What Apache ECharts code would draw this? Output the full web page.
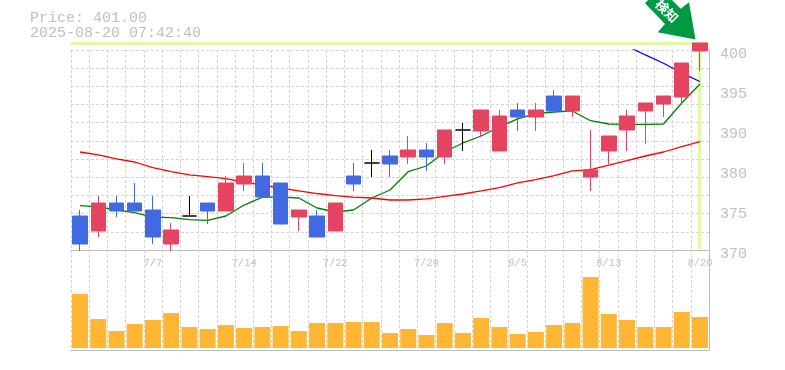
<!DOCTYPE html>
<html>
<head>
<meta charset="utf-8">
<title>Price chart</title>
<script src="https://cdn.jsdelivr.net/npm/echarts@6/dist/echarts.min.js"></script>
<style>
  html, body { margin: 0; background: #fff; }
  #chart { width: 785px; height: 370px; }
</style>
</head>
<body>
<div id="chart"></div>
<script>
const priceText = 'Price: 401.00'
const timeText = '2025-08-20 07:42:40'
const arrowText = '検知'
const lastPrice = 400.81

const dates = [
  '7/1', '7/2', '7/3', '7/4', '7/7', '7/8', '7/9', '7/10', '7/11', '7/14',
  '7/15', '7/16', '7/17', '7/18', '7/22', '7/23', '7/24', '7/25', '7/28', '7/29',
  '7/30', '7/31', '8/1', '8/4', '8/5', '8/6', '8/7', '8/8', '8/12', '8/13',
  '8/14', '8/15', '8/18', '8/19', '8/20',
]

const opens = [
  379.25, 377.375, 380.875, 380.875, 380, 375.75, 379.25, 380.875, 379.875, 383.25,
  384.25, 383.375, 379.125, 379.25, 377.375, 384.25, 385.875, 386.75, 386.625, 387.5,
  386.625, 390, 389.875, 387.375, 392.5, 391.625, 394.25, 392.375, 384.125, 387.375,
  390, 392.375, 393.25, 394.125, 399.875,
]
const closes = [
  375.75, 380.875, 379.875, 379.875, 376.625, 377.5, 379.25, 379.875, 383.375, 384.25,
  381.625, 378.25, 380, 376.625, 380.875, 383.25, 385.875, 385.75, 387.5, 386.625,
  390, 390, 392.5, 391.75, 391.625, 392.5, 392.375, 394.25, 385, 389.25,
  391.75, 393.375, 394.25, 398.375, 400.875,
]
const lows = [
  374.875, 376.625, 379.125, 379.875, 375.75, 374.875, 379.25, 378.25, 379.875, 382.375,
  381.625, 378.25, 377.375, 376.625, 377.375, 382.375, 384.125, 384.125, 385.75, 384.875,
  385.75, 387.375, 389.125, 387.375, 389.875, 389.875, 392.375, 391.625, 382.375, 385.75,
  387.375, 388.25, 391.625, 393.25, 397.375,
]
const highs = [
  380, 381.75, 381.75, 383.375, 381.75, 378.375, 381.75, 380.875, 384.25, 385.875,
  385.875, 383.375, 380, 380, 380.875, 385.875, 387.5, 387.5, 389.25, 388.375,
  390, 390.875, 392.5, 392.5, 393.375, 393.375, 395, 394.25, 390, 389.25,
  392.5, 393.375, 394.25, 398.375, 400.875,
]

const maShort = [
  380.54, 380.38, 380, 379.66, 379.12, 379.04, 378.79, 378.71, 379.25, 380.62,
  381.62, 381.62, 381.5, 380.25, 379.75, 380, 381.5, 382.5, 384.79, 385.5,
  387.25, 388.38, 389.25, 390.38, 391.38, 392.04, 392.25, 392.38, 391.16, 390.75,
  390.71, 390.71, 390.75, 393.38, 395.75,
]
const maMiddle = [
  387.25, 386.88, 386.38, 386, 385.29, 384.79, 384.38, 384.16, 383.91, 383.5,
  383.12, 382.75, 382.38, 382.06, 381.79, 381.62, 381.5, 381.25, 381.25, 381.38,
  381.69, 382, 382.38, 382.81, 383.38, 383.81, 384.29, 384.88, 385.04, 385.62,
  386.16, 386.75, 387.25, 387.91, 388.54,
]
const maLong = [
  null, null, null, null, null, null, null, null, null, null,
  null, null, null, null, null, null, null, null, null, null,
  null, null, null, null, null, null, null, null, null, null,
  400.5, 399.38, 398.34, 397.12, 396.06,
]

const volumes = [
  54, 29, 17, 24, 28, 35, 21, 19, 23, 20,
  21, 22, 17, 25, 25, 26, 26, 15, 19, 13,
  25, 15, 30, 21, 14, 16, 23, 25, 71, 34,
  28, 21, 21, 36, 31,
]

// the printed scale skips 385, so these ticks carry the labels shown in the picture
const tickValues = [400, 395, 390, 385, 380, 375]
const tickLabels = ['400', '395', '390', '380', '375', '370']

const textGray = '#c0c0c0'
const axisGray = '#bdbdbd'
const gridGray = '#d4d4d4'
const upColor = '#e4445f'
const downColor = '#4169e1'
const priceLineColor = '#e3f7a8'
const monoFont = '"Liberation Mono", monospace'
const gridDash = { color: gridGray, type: [3, 2], width: 1 }

// crosshair on the latest price: across the top of the plot, down the last candle
function renderPriceLines(params, api) {
  const grid = params.coordSys
  const point = api.coord([api.value(0), api.value(1)])
  const top = Math.round(point[1] - 1.5)
  const style = { fill: priceLineColor }
  return {
    type: 'group',
    children: [
      { type: 'rect', shape: { x: grid.x, y: top, width: grid.width, height: 3 }, style },
      {
        type: 'rect',
        shape: {
          x: Math.round(point[0] - 1.5),
          y: top,
          width: 3,
          height: grid.y + grid.height - top - 1,
        },
        style,
      },
    ],
  }
}

const chart = echarts.init(document.getElementById('chart'))

chart.setOption({
  animation: false,
  backgroundColor: '#ffffff',
  title: {
    text: `${priceText}\n${timeText}`,
    left: 30,
    top: 11,
    padding: 0,
    textStyle: {
      color: textGray,
      fontFamily: monoFont,
      fontSize: 15,
      fontWeight: 'normal',
      lineHeight: 15,
    },
  },
  grid: [
    { left: 70.9, width: 638.2, top: 50, height: 200 },
    { left: 70.9, width: 638.2, top: 250, height: 100 },
  ],
  xAxis: [
    {
      type: 'category',
      gridIndex: 0,
      data: dates,
      axisTick: { show: false },
      axisLine: { lineStyle: { color: axisGray, width: 1 } },
      axisLabel: {
        interval: (index) => index % 5 === 4,
        color: textGray,
        fontFamily: monoFont,
        fontSize: 10.5,
        margin: 8,
        hideOverlap: false,
        showMaxLabel: true,
      },
      splitLine: { show: true, interval: 0, lineStyle: gridDash },
    },
    {
      type: 'category',
      gridIndex: 1,
      data: dates,
      axisTick: { show: false },
      axisLine: { onZero: false, lineStyle: { color: axisGray, width: 1 } },
      axisLabel: { show: false },
      splitLine: { show: true, interval: 0, lineStyle: gridDash },
    },
  ],
  yAxis: [
    {
      type: 'value',
      gridIndex: 0,
      position: 'right',
      min: 375,
      max: 400,
      interval: 5,
      axisTick: { show: false },
      axisLine: { show: true, lineStyle: { color: axisGray, width: 1 } },
      axisLabel: {
        color: textGray,
        fontFamily: monoFont,
        fontSize: 15,
        margin: 11,
        verticalAlign: 'top',
        lineHeight: 8,
        formatter: (value) => tickLabels[tickValues.indexOf(value)] || '',
      },
      splitLine: { show: false },
    },
    {
      // only draws the finer background grid
      type: 'value',
      gridIndex: 0,
      position: 'left',
      min: 0,
      max: 11,
      interval: 1,
      axisTick: { show: false },
      axisLine: { show: false },
      axisLabel: { show: false },
      splitLine: { show: true, lineStyle: gridDash },
    },
    {
      type: 'value',
      gridIndex: 1,
      position: 'right',
      min: -2,
      max: 98,
      axisTick: { show: false },
      axisLine: { show: true, lineStyle: { color: axisGray, width: 1 } },
      axisLabel: { show: false },
      splitLine: { show: false },
    },
  ],
  series: [
    {
      name: 'Latest price',
      type: 'custom',
      xAxisIndex: 0,
      yAxisIndex: 0,
      z: 1,
      silent: true,
      clip: false,
      renderItem: renderPriceLines,
      encode: { x: 0, y: 1 },
      data: [[dates.length - 1, lastPrice]],
    },
    {
      name: 'Price',
      type: 'candlestick',
      xAxisIndex: 0,
      yAxisIndex: 0,
      z: 3,
      clip: false,
      barWidth: 15,
      data: dates.map((_, index) => [opens[index], closes[index], lows[index], highs[index]]),
      itemStyle: {
        color: upColor,
        color0: downColor,
        borderColor: upColor,
        borderColor0: downColor,
        borderColorDoji: '#000000',
        borderWidth: 1,
      },
    },
    {
      name: 'MA short',
      type: 'line',
      xAxisIndex: 0,
      yAxisIndex: 0,
      z: 2,
      data: maShort,
      symbol: 'none',
      lineStyle: { color: '#008000', width: 1.3 },
    },
    {
      name: 'MA middle',
      type: 'line',
      xAxisIndex: 0,
      yAxisIndex: 0,
      z: 2,
      data: maMiddle,
      symbol: 'none',
      lineStyle: { color: '#ff0000', width: 1.3 },
    },
    {
      name: 'MA long',
      type: 'line',
      xAxisIndex: 0,
      yAxisIndex: 0,
      z: 2,
      data: maLong,
      symbol: 'none',
      lineStyle: { color: '#0000ff', width: 1.3 },
    },
    {
      name: 'Volume',
      type: 'bar',
      xAxisIndex: 1,
      yAxisIndex: 2,
      data: volumes,
      barWidth: 16,
      itemStyle: { color: '#ffb733' },
    },
  ],
  graphic: [
    {
      type: 'polygon',
      z: 10,
      shape: {
        points: [
          [645, 3.3], [665, 24], [657.7, 32.3], [695.5, 39.5], [689, 2.3],
          [680.7, 8.7], [671, -1], [649, -1],
        ],
      },
      style: { fill: '#009944' },
    },
    {
      type: 'text',
      z: 11,
      x: 667,
      y: 11,
      rotation: -Math.PI / 4,
      style: {
        text: arrowText,
        fill: '#ffffff',
        font: 'bold 13px "Noto Sans CJK JP"',
        align: 'center',
        verticalAlign: 'middle',
      },
    },
  ],
})
</script>
</body>
</html>
